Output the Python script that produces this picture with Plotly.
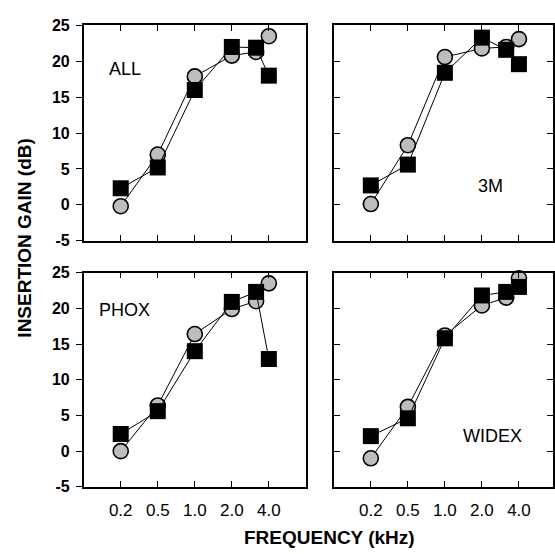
import math
import plotly.graph_objects as go

# ---- data ----
freq_khz = [0.25, 0.5, 1.0, 2.0, 3.15, 4.0]
tick_vals = [0.25, 0.5, 1.0, 2.0, 4.0]
tick_text = ["0.2", "0.5", "1.0", "2.0", "4.0"]
y_ticks = [-5, 0, 5, 10, 15, 20, 25]
y_tick_text = ["-5", "0", "5", "10", "15", "20", "25"]

panels = ["ALL", "3M", "PHOX", "WIDEX"]
circles = {
    "ALL":   [-0.2, 7.0, 17.9, 20.8, 21.3, 23.5],
    "3M":    [0.1, 8.3, 20.6, 21.8, 22.0, 23.1],
    "PHOX":  [0.0, 6.4, 16.4, 19.9, 21.0, 23.5],
    "WIDEX": [-1.0, 6.2, 16.2, 20.4, 21.5, 24.2],
}
squares = {
    "ALL":   [2.3, 5.2, 16.0, 22.0, 21.9, 18.0],
    "3M":    [2.7, 5.6, 18.4, 23.3, 21.6, 19.6],
    "PHOX":  [2.4, 5.6, 14.0, 20.9, 22.3, 12.9],
    "WIDEX": [2.1, 4.6, 15.8, 21.8, 22.3, 23.0],
}

W, H = 555, 554
FONT = "Arial, Liberation Sans, Helvetica, sans-serif"

# panel pixel boxes (left, right, top, bottom)
boxes = {
    "ALL":   (84, 307, 18, 240),
    "3M":    (335, 555, 18, 240),
    "PHOX":  (84, 307, 273, 494),
    "WIDEX": (335, 555, 273, 494),
}
label_pos = {
    "ALL": (125, 63), "3M": (492, 184), "PHOX": (125, 312), "WIDEX": (494, 442),
}

full_w = 223.0  # nominal panel width in px, 6 octaves
fig = go.Figure()
layout = dict(
    width=W, height=H, margin=dict(l=0, r=0, t=0, b=0),
    paper_bgcolor="white", plot_bgcolor="white", showlegend=False,
    font=dict(family=FONT, color="black"),
)
annotations = []

for i, name in enumerate(panels, start=1):
    l, r, t, b = boxes[name]
    xs = "" if i == 1 else str(i)
    xd = [l / W, r / W]
    yd = [1 - b / H, 1 - t / H]
    lo = math.log10(0.125)
    hi_oct = -3 + 6 * (r - l) / full_w
    hi = hi_oct * math.log10(2)
    left_col = name in ("ALL", "PHOX")
    bottom_row = name in ("PHOX", "WIDEX")

    layout["xaxis" + xs] = dict(
        domain=xd, anchor="y" + xs, type="log", range=[lo, hi],
        tickvals=tick_vals, ticktext=tick_text, showticklabels=bottom_row,
        ticks="inside", ticklen=6, tickwidth=1, tickcolor="black",
        showline=True, linecolor="black", linewidth=1.5, mirror="ticks",
        showgrid=False, zeroline=False, ticklabelstandoff=7,
        tickfont=dict(size=17, family=FONT, color="black"),
    )
    layout["yaxis" + xs] = dict(
        domain=yd, anchor="x" + xs, range=[-5, 25], tickvals=y_ticks,
        ticktext=y_tick_text, showticklabels=left_col,
        ticks="outside" if left_col else "inside", ticklen=6, tickwidth=1,
        tickcolor="black", showline=True, linecolor="black", linewidth=1.5,
        mirror=True if left_col else "ticks",
        showgrid=False, zeroline=False, ticklabelstandoff=3,
        tickfont=dict(size=16, family=FONT, color="black", weight="bold"),
    )

    fig.add_trace(go.Scatter(
        x=freq_khz, y=circles[name], mode="lines+markers",
        xaxis="x" + xs, yaxis="y" + xs, cliponaxis=False,
        line=dict(color="black", width=1),
        marker=dict(symbol="circle", size=15, color="#bdbdbd",
                    line=dict(color="black", width=1.6)),
    ))
    fig.add_trace(go.Scatter(
        x=freq_khz, y=squares[name], mode="lines+markers",
        xaxis="x" + xs, yaxis="y" + xs, cliponaxis=False,
        line=dict(color="black", width=1),
        marker=dict(symbol="square", size=16, color="black",
                    line=dict(color="black", width=0)),
    ))

    lx, ly = label_pos[name]
    annotations.append(dict(
        text=name, x=lx / W, y=1 - ly / H, xref="paper", yref="paper",
        xanchor="center", yanchor="middle", showarrow=False,
        font=dict(size=18, family=FONT, color="black"),
    ))

# right-side inward ticks for left column panels
for k, (name, ax) in enumerate((("ALL", "y"), ("PHOX", "y3")), start=5):
    xa = "x" if name == "ALL" else "x3"
    layout["yaxis" + str(k)] = dict(
        overlaying=ax, side="right", anchor=xa, range=[-5, 25],
        tickvals=y_ticks, showticklabels=False, ticks="inside", ticklen=6,
        tickwidth=1, tickcolor="black", showline=False, showgrid=False,
        zeroline=False,
    )

annotations.append(dict(
    text="<b>INSERTION GAIN (dB)</b>", x=25 / W, y=1 - 237 / H,
    xref="paper", yref="paper", xanchor="center", yanchor="middle",
    textangle=-90, showarrow=False, font=dict(size=19, family=FONT, color="black"),
))
annotations.append(dict(
    text="<b>FREQUENCY (kHz)</b>", x=331 / W, y=1 - 546 / H,
    xref="paper", yref="paper", xanchor="center", yanchor="middle",
    showarrow=False, font=dict(size=19, family=FONT, color="black"),
))
layout["annotations"] = annotations
fig.update_layout(**layout)
fig.write_html("out.html")
